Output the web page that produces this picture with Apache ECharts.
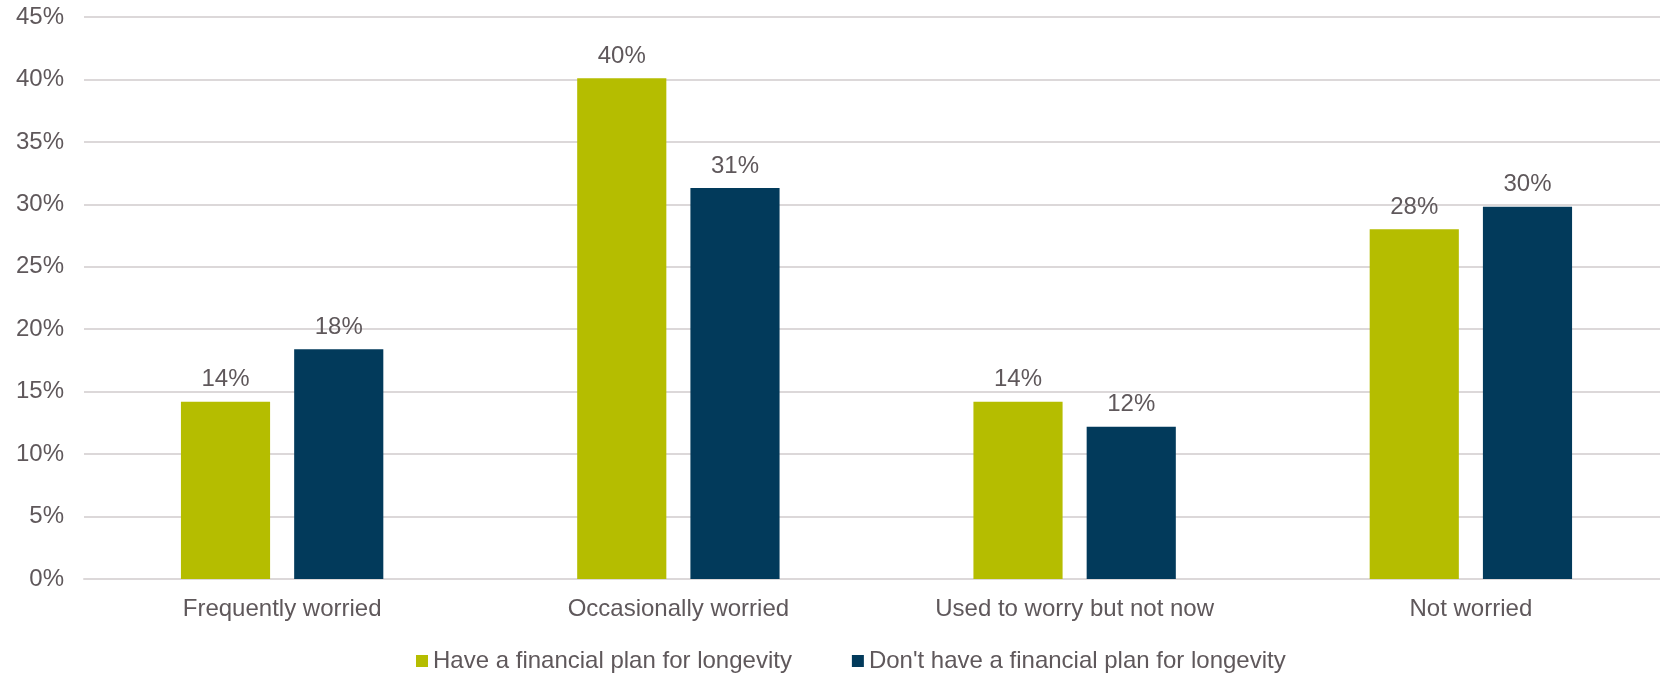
<!DOCTYPE html>
<html>
<head>
<meta charset="utf-8">
<script src="https://cdn.jsdelivr.net/npm/echarts@6/dist/echarts.min.js"></script>
<style>
  html, body { margin: 0; padding: 0; background: #fff; overflow: hidden; }
  #chart { width: 1669px; height: 673px; }
</style>
</head>
<body>
<div id="chart"></div>
<script>
// categories and series values (percent)
var categories = ["Frequently worried", "Occasionally worried", "Used to worry but not now", "Not worried"];
var haveValues = [14.2, 40.1, 14.2, 28.0];
var dontHaveValues = [18.4, 31.3, 12.2, 29.8];
var seriesNames = ["Have a financial plan for longevity", "Don't have a financial plan for longevity"];

var textColor = "#5f585b";
var fontFamily = "Liberation Sans, Arial, sans-serif";

// chart is a bit wider than the window so the last category sits where the original has it
var chart = echarts.init(document.getElementById("chart"));

function makeBar(name, values, color) {
  return {
    name: name,
    type: "bar",
    data: values,
    barWidth: "22.5%",
    barGap: "27%",
    itemStyle: { color: color },
    label: {
      show: true,
      position: "top",
      distance: 10,
      color: textColor,
      fontSize: 24,
      fontFamily: fontFamily,
      formatter: function (p) {
        return Math.round(p.value) + "%";
      },
    },
  };
}

chart.setOption({
  backgroundColor: "#fff",
  animation: false,
  grid: {
    left: 84,
    right: 0,
    top: 17,
    bottom: 94,
  },
  legend: {
    left: 411,
    top: 644,
    itemWidth: 12,
    itemHeight: 12,
    itemGap: 60,
    icon: "rect",
    textStyle: {
      color: textColor,
      fontSize: 24,
      fontFamily: fontFamily,
    },
    data: seriesNames,
  },
  xAxis: {
    type: "category",
    data: categories,
    axisLine: { show: true, lineStyle: { color: "#dcd8d9", width: 2 } },
    axisTick: { show: false },
    axisLabel: {
      color: textColor,
      fontSize: 24,
      fontFamily: fontFamily,
      margin: 18,
    },
  },
  yAxis: {
    type: "value",
    min: 0,
    max: 45,
    interval: 5,
    axisLine: { show: false },
    axisTick: { show: false },
    splitLine: { lineStyle: { color: "#dcd8d9", width: 2 } },
    axisLabel: {
      color: textColor,
      fontSize: 24,
      fontFamily: fontFamily,
      margin: 20,
      formatter: "{value}%",
    },
  },
  series: [
    makeBar(seriesNames[0], haveValues, "#b5bd00"),
    makeBar(seriesNames[1], dontHaveValues, "#023a5b"),
  ],
});
</script>
</body>
</html>
